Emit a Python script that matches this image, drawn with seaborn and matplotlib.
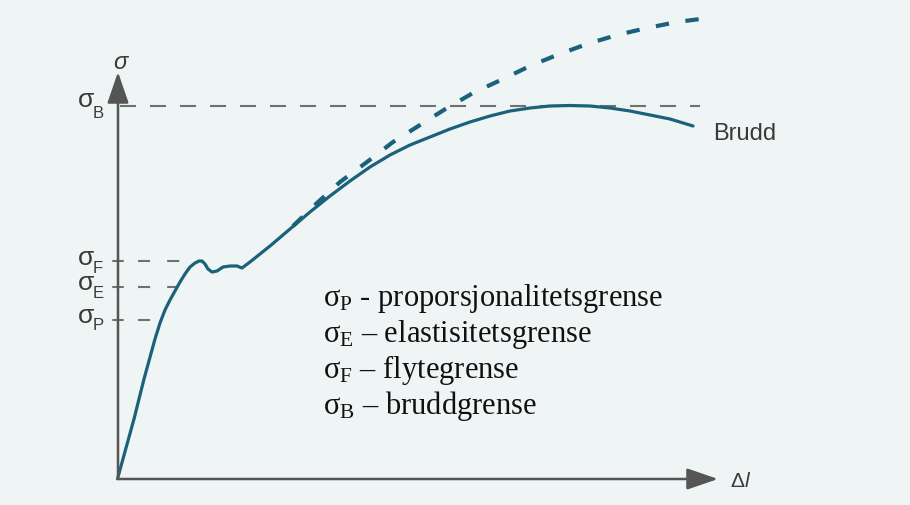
import matplotlib
matplotlib.use("Agg")
import matplotlib.pyplot as plt
import seaborn as sns

# ---- data (Δl, σ) ----
solid_dl = [0, 16, 26, 37, 42, 47, 52, 57, 62, 67, 72, 77, 81, 84, 87, 90, 94, 99, 105, 112,
            119, 124, 132, 152, 172, 192, 212, 232, 252, 272, 292, 312, 332, 352, 372, 392,
            412, 432, 452, 472, 492, 512, 532, 552, 575]
solid_sigma = [0, 58, 98, 138, 154, 167, 177, 186, 195, 203, 210, 214, 216, 216, 213, 208, 205,
               206, 210, 211, 211, 209, 215, 231, 248, 265, 281, 296, 310, 322, 332, 340, 348,
               355, 361, 366, 369, 371, 371.5, 371, 369, 366, 362, 358, 351]

dashed_dl = [175, 199, 222, 249, 275, 302, 329, 355, 385, 412, 439, 469, 499, 529, 559, 590]
dashed_sigma = [251, 274, 295, 315, 335, 352, 369, 384, 398, 411, 422, 433, 442, 449, 455, 459]

level_names = ["B", "F", "E", "P"]
level_values = [371, 216, 190, 157]
level_ends = [582, 64, 59, 35]

legend_lines = [
    r"$\mathrm{σ}_\mathrm{P}$ - proporsjonalitetsgrense",
    r"$\mathrm{σ}_\mathrm{E}$ – elastisitetsgrense",
    r"$\mathrm{σ}_\mathrm{F}$ – flytegrense",
    r"$\mathrm{σ}_\mathrm{B}$ – bruddgrense",
]

sns.set_theme(style="white")
plt.rcParams["font.family"] = ["Liberation Sans", "DejaVu Sans"]
plt.rcParams["mathtext.fontset"] = "custom"
plt.rcParams["mathtext.rm"] = "Liberation Serif"
plt.rcParams["mathtext.it"] = "Liberation Serif:italic"
plt.rcParams["mathtext.bf"] = "Liberation Serif:bold"

BG = "#eff4f4"
CURVE = "#1b617c"
AXC = "#555555"
DASHC = "#707070"

fig = plt.figure(figsize=(9.1, 5.06), dpi=100, facecolor=BG)
ax = fig.add_axes([0, 0, 1, 1])
ax.set_facecolor(BG)
ax.set_xlim(-118, 792)
ax.set_ylim(-28, 478)
ax.axis("off")

# reference levels
for name, val, end in zip(level_names, level_values, level_ends):
    if name == "B":
        ax.plot([2, end], [val, val], color=DASHC, lw=1.5, dashes=(7.7, 6.7), zorder=1)
    else:
        ax.plot([-5, 5], [val, val], color=DASHC, lw=1.5, zorder=1)
        ax.plot([20, end], [val, val], color=DASHC, lw=1.5, dashes=(5.8, 8.2), zorder=1)

# curves
sns.lineplot(x=solid_dl, y=solid_sigma, sort=False, estimator=None, ax=ax,
             color=CURVE, lw=2.3, zorder=3)
ax.lines[-1].set_solid_capstyle("round")
ax.lines[-1].set_solid_joinstyle("round")
sns.lineplot(x=dashed_dl, y=dashed_sigma, sort=False, estimator=None, ax=ax,
             color=CURVE, lw=3.0, zorder=3)
ax.lines[-1].set_dashes((3.2, 4.0))

# axes with arrows
ax.annotate("", xy=(0, 405), xytext=(0, -2),
            arrowprops=dict(arrowstyle="-|>,head_length=1.6,head_width=0.55",
                            color=AXC, lw=1.8, shrinkA=0, shrinkB=0))
ax.annotate("", xy=(600, -2), xytext=(-1, -2),
            arrowprops=dict(arrowstyle="-|>,head_length=1.6,head_width=0.55",
                            color=AXC, lw=1.8, shrinkA=0, shrinkB=0))

TXT = "#3a3a3a"
ax.text(2, 409, "σ", fontsize=17, style="italic", color=TXT, ha="center", va="baseline")
ax.text(612, -9, "Δ", fontsize=15, color=TXT, ha="left", va="baseline")
ax.text(627, -9, "l", fontsize=15, style="italic", color=TXT, ha="left", va="baseline")
ax.text(595, 338, "Brudd", fontsize=17, color=TXT, ha="left", va="baseline")

# level labels
sig_base = {"B": 107, "F": 265, "E": 290, "P": 323}
sub_base = {"B": 118, "F": 273, "E": 298, "P": 330}
for name in level_names:
    ax.text(-24, 478 - sig_base[name], "σ", fontsize=19, color=TXT, ha="right", va="baseline")
    ax.text(-25, 478 - sub_base[name], name, fontsize=12, color=TXT, ha="left", va="baseline")

# legend text
for i, line in enumerate(legend_lines):
    ax.text(205, 172 - i * 36, line, fontsize=22, color="#111111",
            family="Liberation Serif", ha="left", va="baseline")

fig.savefig("out.png", dpi=100, facecolor=BG)
